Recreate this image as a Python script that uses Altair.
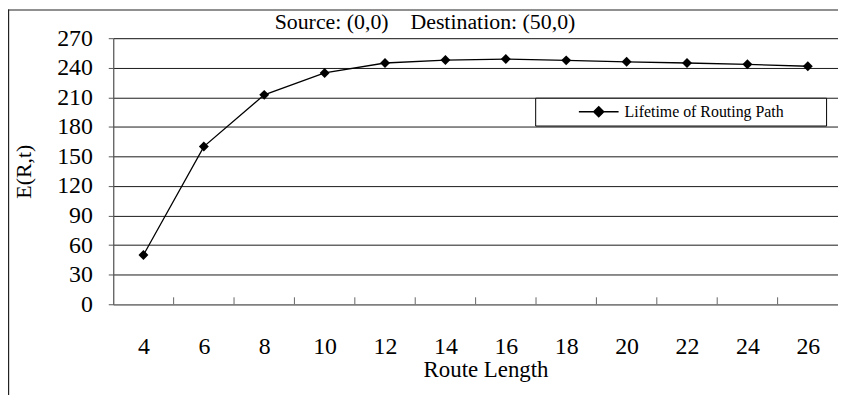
import altair as alt
import pandas as pd

# ---- data ----
route_length = [4, 6, 8, 10, 12, 14, 16, 18, 20, 22, 24, 26]
lifetime = [50, 160, 212.5, 234.7, 244.8, 247.8, 248.8, 247.5, 246, 244.8, 243.5, 241.5]
series_name = "Lifetime of Routing Path"
y_ticks = [0, 30, 60, 90, 120, 150, 180, 210, 240, 270]
x_domain = [3, 27]
# category boundaries (tick marks sit between categories)
boundary_ticks = [5, 7, 9, 11, 13, 15, 17, 19, 21, 23, 25]
chart_title = "Source: (0,0)\u00a0\u00a0\u00a0 Destination: (50,0)"

FONT = "Liberation Serif"
W, H = 730, 268

df = pd.DataFrame({"route": route_length, "life": lifetime, "series": series_name})
ticks_df = pd.DataFrame({"route": boundary_ticks})
frame_df = pd.DataFrame({"k": [0]})
title_df = pd.DataFrame({"t": [chart_title]})

x_enc = alt.X(
    "route:Q",
    scale=alt.Scale(domain=x_domain, nice=False, zero=False),
    axis=alt.Axis(
        values=route_length, ticks=False, grid=False, labelPadding=31,
        labelFontSize=24, labelColor="black", labelFont=FONT, labelOverlap=False,
        domainColor="#808080", domainWidth=1.5,
        title="Route Length", titleFontSize=23, titleFont=FONT,
        titleFontWeight="normal", titleColor="black",
        titleX=375, titleY=73, titleBaseline="alphabetic",
    ),
)
y_enc = alt.Y(
    "life:Q",
    scale=alt.Scale(domain=[0, 270], nice=False),
    axis=alt.Axis(
        values=y_ticks, grid=True, gridColor="#1a1a1a", gridWidth=1,
        tickSize=5, tickColor="#555555", domainColor="#555555", domainWidth=1.2,
        labelPadding=16, labelFontSize=24, labelColor="black", labelFont=FONT,
        labelOverlap=False, labelBound=False, labelFlush=False,
        title="E(R,t)", titleFontSize=22, titleFont=FONT, titleFontWeight="normal",
        titleColor="black", titleX=-78, titleY=H / 2, titleAngle=270,
        titleAlign="center", titleBaseline="bottom",
    ),
)

legend = alt.Legend(
    title=None, orient="none", legendX=425, legendY=60,
    strokeColor="black", fillColor="white", padding=6,
    symbolType="M-4,0H4M0,-1L1,0L0,1L-1,0Z", symbolSize=100,
    symbolStrokeWidth=1.5, symbolOffset=50, labelOffset=18,
    symbolFillColor="black", symbolStrokeColor="black", symbolOpacity=1,
    labelFont=FONT, labelFontSize=16, labelColor="black", labelLimit=500,
    labelExpr="datum.label + '" + "\u00a0" * 9 + "\u200b'",
)

line = alt.Chart(df).mark_line(strokeWidth=1.3).encode(
    x=x_enc, y=y_enc,
    color=alt.Color("series:N", scale=alt.Scale(range=["black"]), legend=legend),
)
points = alt.Chart(df).mark_point(
    shape="diamond", filled=True, size=100, color="black", opacity=1
).encode(x=x_enc, y=y_enc)

tick_marks = alt.Chart(ticks_df).mark_rule(color="#666666", strokeWidth=1).encode(
    x=alt.X("route:Q", scale=alt.Scale(domain=x_domain, nice=False, zero=False)),
    y=alt.value(H), y2=alt.value(H - 7),
)

frame_left = alt.Chart(frame_df).mark_rule(color="#222222", strokeWidth=1.2).encode(
    x=alt.value(-105.4), y=alt.value(-29), y2=alt.value(H + 100)
)
frame_top = alt.Chart(frame_df).mark_rule(color="#222222", strokeWidth=1.2).encode(
    x=alt.value(-106), x2=alt.value(W + 10), y=alt.value(-28.4)
)

title_text = alt.Chart(title_df).mark_text(
    font=FONT, fontSize=22, color="black", align="center", baseline="alphabetic"
).encode(text="t:N", x=alt.value(314), y=alt.value(-9))

chart = (
    alt.layer(tick_marks, line, points, frame_left, frame_top, title_text)
    .properties(
        width=W, height=H,
        autosize=alt.AutoSizeParams(type="none"),
        padding={"left": 106, "top": 29, "right": 0, "bottom": 90},
    )
    .configure_view(stroke=None)
    .configure(background="white")
)

chart.save("out.html", embed_options={"renderer": "svg", "actions": False})
